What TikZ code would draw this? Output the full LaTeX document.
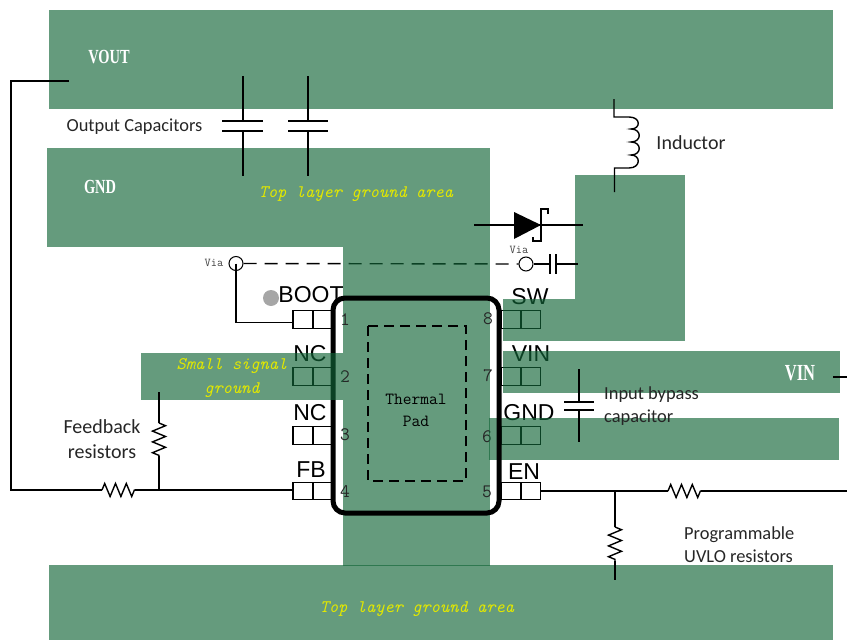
\documentclass[tikz,border=0pt]{standalone}
\usepackage{fontspec}
\newfontfamily\notefont{Carlito}
\newfontfamily\netfont[FakeStretch=0.72]{Liberation Serif}
\setsansfont{Liberation Sans}
\usetikzlibrary{decorations.pathmorphing}
\definecolor{padGreen}{RGB}{18,101,56}
\definecolor{noteYellow}{RGB}{226,232,0}
\begin{document}
\begin{tikzpicture}
        [x=1pt,y=-1pt,
        pad/.style={fill=padGreen, fill opacity=0.65},
        wire/.style={draw=black, line width=1.4pt},
        res/.style={wire, decorate, decoration={zigzag, segment length=10.8pt, amplitude=6.5pt}},
        pinbox/.style={draw=black, line width=1.2pt, minimum width=20pt, minimum height=17.5pt, inner sep=0pt},
        pinNum/.style={font=\ttfamily\fontsize{19}{19}\selectfont, text=black!85, inner sep=0pt},
        pinName/.style={font=\sffamily\fontsize{23}{23}\selectfont, inner sep=0pt},
        note/.style={font=\notefont\fontsize{18.4}{23}\selectfont, text=black!85, inner sep=0pt, align=center},
        noteBig/.style={font=\notefont\fontsize{20}{25}\selectfont, text=black!85, inner sep=0pt, align=center},
        netName/.style={font=\netfont\bfseries\fontsize{20}{20}\selectfont, text=white, inner sep=0pt},
        areaName/.style={font=\ttfamily\itshape\fontsize{17.6}{23.5}\selectfont, text=noteYellow, inner sep=0pt, align=center},
        nodeVia/.style={circle, draw=black, line width=1pt, minimum size=14pt, inner sep=0pt},
        viaName/.style={font=\ttfamily\fontsize{12}{12}\selectfont, text=black!75, inner sep=0pt}]
        \useasboundingbox (0,0) rectangle (847,640);

        % via link runs under the ground pour
        \node[nodeVia] (viaL) at (236,263.5) {};
        \node[nodeVia] (viaR) at (526,264) {};
        \draw[wire, dash pattern=on 13pt off 8pt] (viaL) -- (viaR);

        \fill[pad] (49,10) rectangle (833,109);
        \fill[pad] (47,148) rectangle (490,247);
        \fill[pad] (343,247) rectangle (490,566);
        \fill[pad] (49,565) rectangle (833,640);

        \node[pinbox] (P1a) at (303,319.5) {};
        \node[pinbox] (P1b) at (322.5,319.5) {};
        \node[pinbox] (P2a) at (303,376.5) {};
        \node[pinbox] (P2b) at (322.5,376.5) {};
        \node[pinbox] (P3a) at (303,435.5) {};
        \node[pinbox] (P3b) at (322.5,435.5) {};
        \node[pinbox] (P4a) at (303,491) {};
        \node[pinbox] (P4b) at (322.5,491) {};
        \node[pinbox] (P8a) at (511,319.5) {};
        \node[pinbox] (P8b) at (530.5,319.5) {};
        \node[pinbox] (P7a) at (511,376.5) {};
        \node[pinbox] (P7b) at (530.5,376.5) {};
        \node[pinbox] (P6a) at (511,435.5) {};
        \node[pinbox] (P6b) at (530.5,435.5) {};
        \node[pinbox] (P5a) at (511,491) {};
        \node[pinbox] (P5b) at (530.5,491) {};

        \node[pinNum] (n1) at (345,320) {1};
        \node[pinNum] (n2) at (345,377) {2};
        \node[pinNum] (n3) at (345,435) {3};
        \node[pinNum] (n4) at (345,492) {4};
        \node[pinNum] (n8) at (488,319) {8};
        \node[pinNum] (n7) at (488,376) {7};
        \node[pinNum] (n6) at (487,437) {6};
        \node[pinNum] (n5) at (487,492) {5};

        \node[pinName] (nameBoot) at (311,295) {BOOT};
        \node[pinName] (nameNCa) at (310,354) {NC};
        \node[pinName] (nameNCb) at (310,413) {NC};
        \node[pinName] (nameFB) at (311,470) {FB};
        \node[pinName] (nameSW) at (530,297) {SW};
        \node[pinName] (nameVIN) at (531,354) {VIN};
        \node[pinName] (nameGND) at (529,413) {GND};
        \node[pinName] (nameEN) at (524,472) {EN};

        % these pads sit over the pins
        \fill[pad] (575,175) rectangle (685,299);
        \fill[pad] (503,299) rectangle (685,341);
        \fill[pad] (503,351) rectangle (840,393);
        \fill[pad] (489,418) rectangle (839,460);

        % package
        \draw[line width=5pt, rounded corners=12pt] (333,298) rectangle (499,513);
        \draw[line width=1.4pt, dash pattern=on 10pt off 6pt] (368,326) rectangle (466,481);
        \node[pinNum, align=center, text=black, font=\ttfamily\fontsize{17}{22}\selectfont] (pad) at (416,410) {Thermal\\Pad};

        \fill[pad] (141,353) rectangle (343,400);

        \fill[black!35] (271,298) circle (8);

        % output side
        \coordinate (vout) at (69,81);
        \coordinate (RfbL) at (102,490);
        \coordinate (RfbR) at (135,490);
        \coordinate (RgndT) at (159,423);
        \coordinate (RgndB) at (159,456);
        \coordinate (gndTap) at (159,392);
        \coordinate (fbTap) at (159,490);
        \coordinate (fbIn) at (293,490);
        \coordinate (bootIn) at (293,322.5);
        \draw[wire] (vout) -- (11,81) -- (11,490) -- (RfbL);
        \draw[res] (RfbL) -- (RfbR);
        \draw[wire] (RfbR) -- (fbIn);
        \draw[wire] (gndTap) -- (RgndT);
        \draw[res] (RgndT) -- (RgndB);
        \draw[wire] (RgndB) -- (fbTap);
        \draw[wire] (viaL.center) |- (bootIn);

        % output capacitors
        \coordinate (C1t) at (243,121);
        \coordinate (C1b) at (243,131);
        \coordinate (C2t) at (308,121);
        \coordinate (C2b) at (308,131);
        \draw[wire] (243,76) -- (C1t);
        \draw[wire] (222,121) -- (263,121);
        \draw[wire] (222,131) -- (263,131);
        \draw[wire] (C1b) -- (243,176);
        \draw[wire] (308,76) -- (C2t);
        \draw[wire] (288,121) -- (328,121);
        \draw[wire] (288,131) -- (328,131);
        \draw[wire] (C2b) -- (308,176);

        % inductor
        \coordinate (Lt) at (614,99);
        \coordinate (Lb) at (614.5,192);
        \draw[wire] (Lt) -- (614,117) -- (629,117)
            .. controls (641,117) and (641,129) .. (631,129)
            .. controls (642,129) and (642,142) .. (631,142)
            .. controls (642,142) and (642,155) .. (631,155)
            .. controls (641,155) and (641,168) .. (629,168)
            -- (614.5,168) -- (Lb);

        % diode
        \coordinate (Da) at (474,225);
        \coordinate (Dk) at (583,225);
        \draw[wire] (Da) -- (Dk);
        \fill (514,212) -- (541,225) -- (514,239) -- cycle;
        \draw[wire] (548,214) -- (548,209) -- (541,209) -- (541,241) -- (533,241) -- (533,237);

        % cap behind the via
        \coordinate (Cvl) at (550,264);
        \coordinate (Cvr) at (556,264);
        \coordinate (Cvend) at (578,264);
        \draw[wire] (viaR) -- (Cvl);
        \draw[wire] (550,254) -- (550,274);
        \draw[wire] (556,254) -- (556,274);
        \draw[wire] (Cvr) -- (Cvend);

        % input capacitor
        \draw[wire] (579,369) -- (579,402);
        \draw[wire] (564,402) -- (594,402);
        \draw[wire] (564,410) -- (594,410);
        \draw[wire] (579,410) -- (579,442);
        \coordinate (vinEnd) at (847,377);
        \draw[wire] (833,377) -- (vinEnd);

        % enable divider
        \coordinate (RenL) at (668,491);
        \coordinate (RenR) at (701,491);
        \coordinate (enEnd) at (847,491);
        \coordinate (enTap) at (615,491);
        \coordinate (RuvT) at (615,527);
        \coordinate (RuvB) at (615,561);
        \coordinate (uvEnd) at (615,580);
        \draw[wire] (P5b.east) -- (RenL);
        \draw[res] (RenL) -- (RenR);
        \draw[wire] (RenR) -- (enEnd);
        \draw[wire] (enTap) -- (RuvT);
        \draw[res] (RuvT) -- (RuvB);
        \draw[wire] (RuvB) -- (uvEnd);

        % labels
        \node[netName] (lblVout) at (109,57) {VOUT};
        \node[netName] (lblGnd) at (100,187) {GND};
        \node[netName, font=\netfont\bfseries\fontsize{23}{23}\selectfont] (lblVin) at (800,373) {VIN};
        \node[areaName] (areaTop) at (356,194) {Top layer ground area};
        \node[areaName] (areaBot) at (417,609) {Top layer ground area};
        \node[areaName] (areaSig) at (232,378) {Small signal\\ground};
        \node[note] (noteOut) at (134.5,126.5) {Output Capacitors};
        \node[noteBig] (noteL) at (691,142.5) {Inductor};
        \node[noteBig] (noteFb) at (102,439) {Feedback\\resistors};
        \node[note, align=left, anchor=west] (noteIn) at (604,406) {Input bypass\\capacitor};
        \node[note, align=left, anchor=west] (noteUv) at (684,544.5) {Programmable\\UVLO resistors};
        \node[viaName] (lblViaL) at (214,263) {Via};
        \node[viaName] (lblViaR) at (519,250) {Via};
    \end{tikzpicture}
\end{document}
